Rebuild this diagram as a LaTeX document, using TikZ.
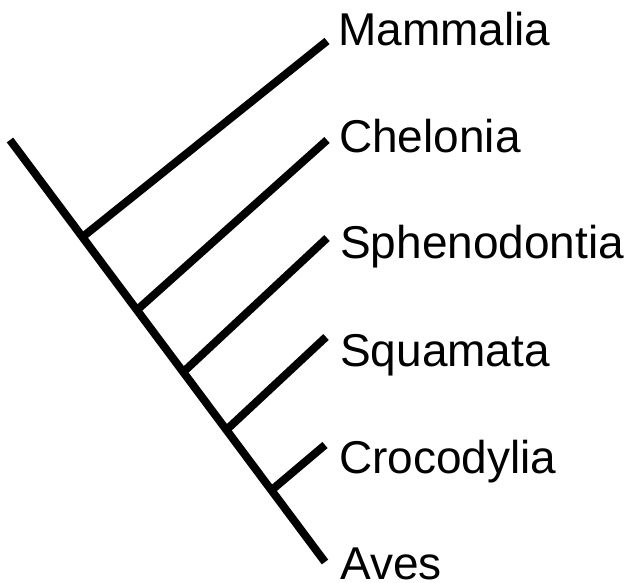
\documentclass[tikz,border=0pt]{standalone}
\usepackage{fontspec}
\setmainfont{Liberation Sans}
\usetikzlibrary{calc}
\begin{document}
\begin{tikzpicture}[x=1pt,y=-1pt,
  branch/.style={line width=8pt,black},
  taxon/.style={anchor=base west,inner sep=0pt,font=\fontsize{46}{50}\selectfont}]
\useasboundingbox (0,0) rectangle (629,583);
% main stem
\coordinate (root) at (10,140);
\coordinate (aves) at (325,562);
% junctions
\coordinate (jM) at ($(root)!0.23!(aves)$);
\coordinate (jC) at ($(root)!0.403!(aves)$);
\coordinate (jS) at ($(root)!0.55!(aves)$);
\coordinate (jQ) at ($(root)!0.687!(aves)$);
\coordinate (jR) at ($(root)!0.83!(aves)$);
% tips
\coordinate (tM) at (327,41);
\coordinate (tC) at (327,140);
\coordinate (tS) at (327,238);
\coordinate (tQ) at (326,337);
\coordinate (tR) at (325,445);
% lines
\draw[branch] (root) -- (aves);
\draw[branch] (jM) -- (tM);
\draw[branch] (jC) -- (tC);
\draw[branch] (jS) -- (tS);
\draw[branch] (jQ) -- (tQ);
\draw[branch] (jR) -- (tR);
% labels
\node[taxon] (lM) at (338,46) {Mammalia};
\node[taxon] (lC) at (339,153) {Chelonia};
\node[taxon] (lS) at (340,258) {Sphenodontia};
\node[taxon] (lQ) at (340,366) {Squamata};
\node[taxon] (lR) at (339,473) {Crocodylia};
\node[taxon] (lA) at (340,579) {Aves};
\end{tikzpicture}
\end{document}
